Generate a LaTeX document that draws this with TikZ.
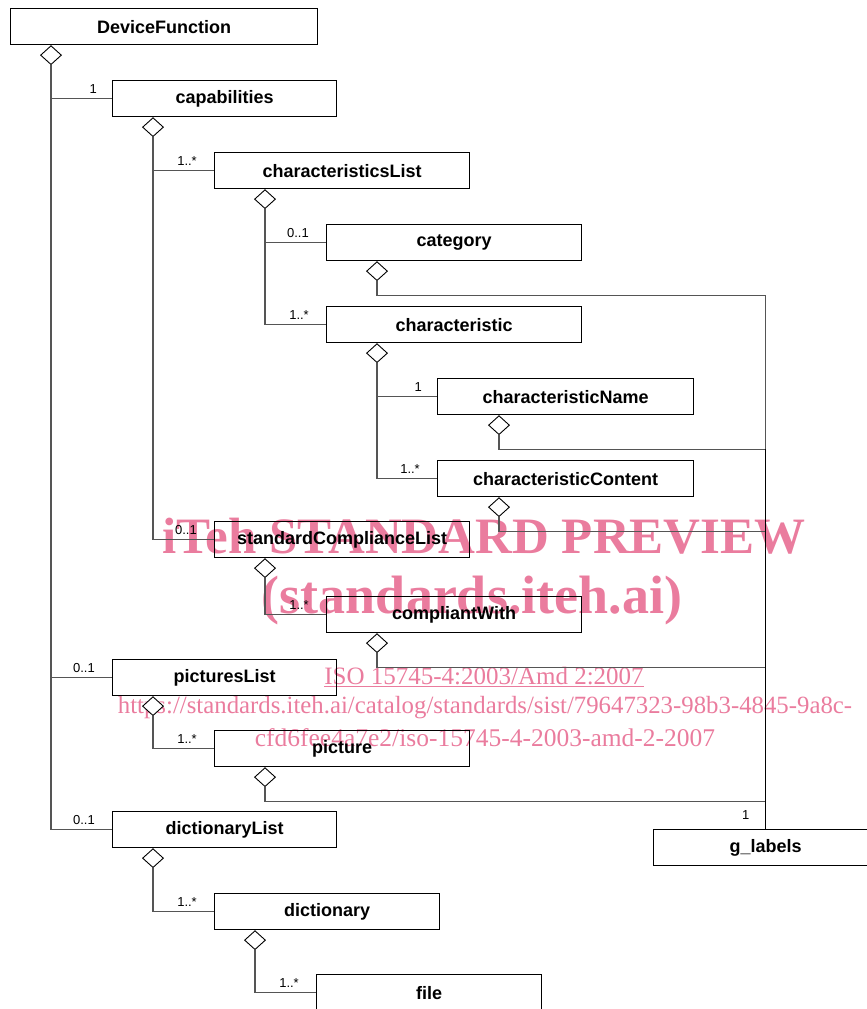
\documentclass[tikz,border=0pt]{standalone}
\usepackage{fontspec}
\setmainfont{Liberation Sans}
\newfontfamily\wmfont{Liberation Serif}
\usetikzlibrary{shapes.geometric,positioning}
\definecolor{wmpink}{RGB}{234,124,158}
\definecolor{linegray}{RGB}{85,85,85}
\tikzset{
  classbox/.style={draw, line width=1.2pt, anchor=north west, minimum height=36pt, inner sep=0pt,
    font=\bfseries\fontsize{18}{18}\selectfont},
  aggr/.style={draw, diamond, fill=white, line width=0.9pt, minimum width=21pt, minimum height=19pt,
    inner sep=0pt, anchor=north},
  mult/.style={font=\fontsize{13}{13}\selectfont, anchor=south east, inner sep=1pt},
  link/.style={draw=linegray, line width=1.2pt},
  wmark/.style={text=wmpink, anchor=base, inner sep=0pt}
}

\begin{document}
\begin{tikzpicture}[x=1pt,y=-1pt]
\useasboundingbox (0,0) rectangle (867,1009);

% watermark
\node[wmark, font=\wmfont\bfseries\fontsize{51}{51}\selectfont] (wm1) at (484,553) {iTeh STANDARD PREVIEW};
\node[wmark, font=\wmfont\bfseries\fontsize{54}{54}\selectfont] (wm2) at (472,613) {(standards.iteh.ai)};
\node[wmark, font=\wmfont\fontsize{25}{25}\selectfont] (wm3) at (484,684) {\underline{ISO 15745-4:2003/Amd 2:2007}};
\node[wmark, font=\wmfont\fontsize{24.8}{25}\selectfont] (wm4) at (485,713) {https://standards.iteh.ai/catalog/standards/sist/79647323-98b3-4845-9a8c-};
\node[wmark, font=\wmfont\fontsize{25.5}{26}\selectfont] (wm5) at (485,746) {cfd6fee4a7e2/iso-15745-4-2003-amd-2-2007};

% classes
\node[classbox, minimum width=307pt] (df) at (10,8) {DeviceFunction};
\node[classbox, minimum width=224pt] (cap) at (112,80) {capabilities};
\node[classbox, minimum width=255pt] (chl) at (214,152) {characteristicsList};
\node[classbox, minimum width=255pt] (cat) at (326,224) {category};
\node[classbox, minimum width=255pt] (chr) at (326,306) {characteristic};
\node[classbox, minimum width=256pt] (chn) at (437,378) {characteristicName};
\node[classbox, minimum width=256pt] (chc) at (437,460) {characteristicContent};
\node[classbox, minimum width=255pt] (scl) at (214,521) {standardComplianceList};
\node[classbox, minimum width=255pt] (cw) at (326,596) {compliantWith};
\node[classbox, minimum width=224pt] (pl) at (112,659) {picturesList};
\node[classbox, minimum width=255pt] (pic) at (214,730) {picture};
\node[classbox, minimum width=224pt] (dl) at (112,811) {dictionaryList};
\node[classbox, minimum width=225pt] (dic) at (214,893) {dictionary};
\node[classbox, minimum width=225pt] (file) at (316,974) {file};
\node[classbox, minimum width=224pt] (gl) at (653,829) {g\_labels};

% aggregation diamonds
\node[aggr] (dfA) at ([xshift=41pt]df.south west) {};
\node[aggr] (capA) at ([xshift=41pt]cap.south west) {};
\node[aggr] (chlA) at ([xshift=51pt]chl.south west) {};
\node[aggr] (catA) at ([xshift=51pt]cat.south west) {};
\node[aggr] (chrA) at ([xshift=51pt]chr.south west) {};
\node[aggr] (chnA) at ([xshift=62pt]chn.south west) {};
\node[aggr] (chcA) at ([xshift=62pt]chc.south west) {};
\node[aggr] (sclA) at ([xshift=51pt]scl.south west) {};
\node[aggr] (cwA) at ([xshift=51pt]cw.south west) {};
\node[aggr] (plA) at ([xshift=41pt]pl.south west) {};
\node[aggr] (picA) at ([xshift=51pt]pic.south west) {};
\node[aggr] (dlA) at ([xshift=41pt]dl.south west) {};
\node[aggr] (dicA) at ([xshift=41pt]dic.south west) {};

% compositions
\draw[link] (dfA.south) |- (cap.west);
\draw[link] (dfA.south) |- (pl.west);
\draw[link] (dfA.south) |- (dl.west);
\draw[link] (capA.south) |- (chl.west);
\draw[link] (capA.south) |- (scl.west);
\draw[link] (chlA.south) |- (cat.west);
\draw[link] (chlA.south) |- (chr.west);
\draw[link] (chrA.south) |- (chn.west);
\draw[link] (chrA.south) |- (chc.west);
\draw[link] (sclA.south) |- (cw.west);
\draw[link] (plA.south) |- (pic.west);
\draw[link] (dlA.south) |- (dic.west);
\draw[link] (dicA.south) |- (file.west);

% links to g_labels
\foreach \src in {catA,chnA,chcA,cwA,picA}
  \draw[link] (\src.south) -- ++(0,14) -| (gl.north);
\draw[line width=1.6pt] (gl.north) -- ++(0,-380);

% multiplicities
\node[mult] (mCap) at ([xshift=-14pt,yshift=4pt]cap.west) {1};
\node[mult] (mChl) at ([xshift=-16pt,yshift=4pt]chl.west) {1..*};
\node[mult] (mCat) at ([xshift=-16pt,yshift=4pt]cat.west) {0..1};
\node[mult] (mChr) at ([xshift=-16pt,yshift=4pt]chr.west) {1..*};
\node[mult] (mChn) at ([xshift=-14pt,yshift=4pt]chn.west) {1};
\node[mult] (mChc) at ([xshift=-16pt,yshift=4pt]chc.west) {1..*};
\node[mult] (mScl) at ([xshift=-16pt,yshift=4pt]scl.west) {0..1};
\node[mult] (mCw) at ([xshift=-16pt,yshift=4pt]cw.west) {1..*};
\node[mult] (mPl) at ([xshift=-16pt,yshift=4pt]pl.west) {0..1};
\node[mult] (mPic) at ([xshift=-16pt,yshift=4pt]pic.west) {1..*};
\node[mult] (mDl) at ([xshift=-16pt,yshift=4pt]dl.west) {0..1};
\node[mult] (mDic) at ([xshift=-16pt,yshift=4pt]dic.west) {1..*};
\node[mult] (mFile) at ([xshift=-16pt,yshift=4pt]file.west) {1..*};
\node[mult] (mGl) at ([xshift=-15pt,yshift=8pt]gl.north) {1};
\end{tikzpicture}
\end{document}
